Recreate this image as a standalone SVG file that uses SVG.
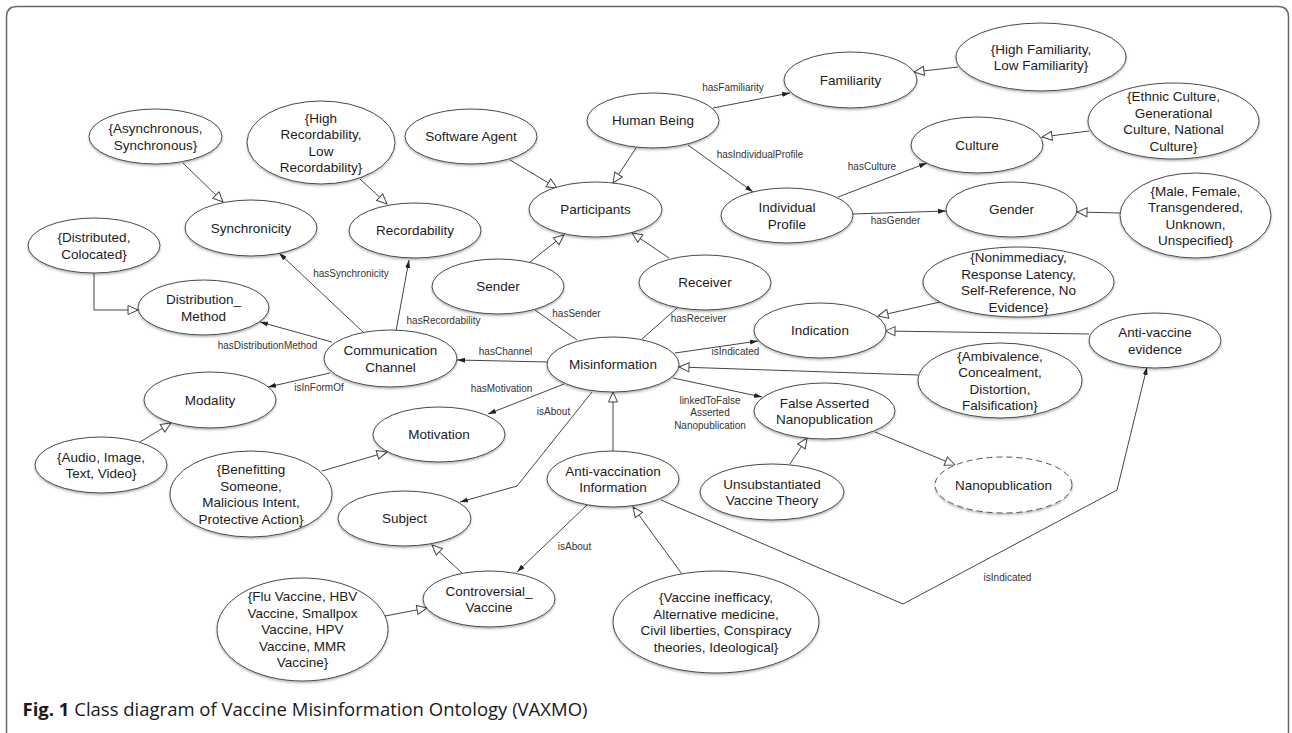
<svg xmlns="http://www.w3.org/2000/svg" width="1292" height="733" viewBox="0 0 1292 733">
<defs>
<style>
.n ellipse{fill:#fff;stroke:#4a4a4a;stroke-width:1;filter:url(#sh)}
.n text{font-family:"Liberation Sans",Arial,sans-serif;font-size:13.5px;fill:#1c1c1c;text-anchor:middle}
.dash ellipse{stroke-dasharray:6 4;stroke:#555}
.e path{fill:none;stroke:#444;stroke-width:1}
.gen{marker-end:url(#hollow)}
.as{marker-end:url(#filled)}
.lbl text{font-family:"Liberation Sans",Arial,sans-serif;font-size:10px;fill:#333;text-anchor:middle}
.cap{font-family:"Open Sans","Noto Sans",sans-serif;font-size:18.5px;fill:#1a1a1a}
</style>
<filter id="sh" x="-10%" y="-10%" width="120%" height="135%">
<feDropShadow dx="0" dy="1.5" stdDeviation="1" flood-color="#000" flood-opacity="0.3"/>
</filter>
<marker id="hollow" markerUnits="userSpaceOnUse" markerWidth="12" markerHeight="12" viewBox="0 0 12 12" refX="11" refY="6" orient="auto">
<path d="M1,1.5 L11,6 L1,10.5 z" fill="#fff" stroke="#444" stroke-width="1"/>
</marker>
<marker id="filled" markerUnits="userSpaceOnUse" markerWidth="8" markerHeight="6" viewBox="0 0 8 6" refX="8" refY="3" orient="auto">
<path d="M0,0.5 L8,3 L0,5.5 z" fill="#222"/>
</marker>
</defs>
<rect width="1292" height="733" fill="#fff"/>
<path d="M6.5,745 L6.5,17 Q6.5,6.5 17,6.5 L1278,6.5 Q1288.5,6.5 1288.5,17 L1288.5,745" fill="none" stroke="#666" stroke-width="1.5"/>

<g id="connectors" class="e">
<path class="gen" d="M183,163 L223,202"/>
<path class="gen" d="M360,179 L387,204"/>
<path class="gen" d="M94,273 L94,310 L138,310"/>
<path class="gen" d="M510,160 L557,188"/>
<path class="gen" d="M636,148 L613,183"/>
<path class="gen" d="M530,262 L564,235"/>
<path class="gen" d="M669,258 L632,233"/>
<path class="gen" d="M958,67 L914,72"/>
<path class="gen" d="M1089,131 L1042,137"/>
<path class="gen" d="M1120,213 L1077,212"/>
<path class="gen" d="M940,302 L878,316"/>
<path class="gen" d="M1089,334 L885,331"/>
<path class="gen" d="M918,375 L679,367"/>
<path class="gen" d="M613,451 L613,392"/>
<path class="gen" d="M790,464 L807,438"/>
<path class="gen" d="M875,432 L955,465"/>
<path class="gen" d="M682,574 L633,507"/>
<path class="gen" d="M462,573 L432,545"/>
<path class="gen" d="M385,616 L427,608"/>
<path class="gen" d="M140,442 L171,423"/>
<path class="gen" d="M322,471 L387,452"/>
<path class="as" d="M713,108 L790,93"/>
<path class="as" d="M688,145 L753,192"/>
<path class="as" d="M838,197 L927,163"/>
<path class="as" d="M853,214 L946,211"/>
<path class="as" d="M363,332 L279,253"/>
<path class="as" d="M396,331 L409,260"/>
<path class="as" d="M332,342 L260,322"/>
<path class="as" d="M548,362 L457,360"/>
<path class="as" d="M330,373 L268,387"/>
<path class="as" d="M564,384 L488,414"/>
<path class="as" d="M592,392 L517,486 L460,502"/>
<path d="M535,310 L577,340"/>
<path d="M677,308 L642,339"/>
<path class="as" d="M675,353 L758,341"/>
<path class="as" d="M673,378 L762,397"/>
<path class="as" d="M587,505 L517,572"/>
<path class="as" d="M661,500 L903,604 L1117,490 L1147,367"/>
</g>

<g id="edge-labels" class="lbl">
<text x="733" y="91">hasFamiliarity</text>
<text x="760" y="158">hasIndividualProfile</text>
<text x="872" y="170">hasCulture</text>
<text x="895.5" y="224">hasGender</text>
<text x="351" y="277">hasSynchronicity</text>
<text x="443.5" y="324">hasRecordability</text>
<text x="576.5" y="317">hasSender</text>
<text x="698.5" y="322">hasReceiver</text>
<text x="267.5" y="349">hasDistributionMethod</text>
<text x="505.5" y="355">hasChannel</text>
<text x="319" y="391">isInFormOf</text>
<text x="501.5" y="392">hasMotivation</text>
<text x="553.5" y="415">isAbout</text>
<text x="735.5" y="355">isIndicated</text>
<text x="710" y="403.5">linkedToFalse</text>
<text x="710" y="416">Asserted</text>
<text x="710" y="428.5">Nanopublication</text>
<text x="574.5" y="550">isAbout</text>
<text x="1007.5" y="581">isIndicated</text>
</g>

<g id="async" class="n"><ellipse cx="155.5" cy="136.5" rx="66.5" ry="27.5"/><text x="155.5" y="133">{Asynchronous,</text><text x="155.5" y="149.5">Synchronous}</text></g>
<g id="highrec" class="n"><ellipse cx="321" cy="142.5" rx="74" ry="41.5"/><text x="321" y="122.5">{High</text><text x="321" y="139">Recordability,</text><text x="321" y="155.5">Low</text><text x="321" y="172">Recordability}</text></g>
<g id="synchronicity" class="n"><ellipse cx="251" cy="228" rx="66" ry="28"/><text x="251" y="232.7">Synchronicity</text></g>
<g id="recordability" class="n"><ellipse cx="415" cy="230.5" rx="66" ry="27.5"/><text x="415" y="235.2">Recordability</text></g>
<g id="distributed" class="n"><ellipse cx="94" cy="245.5" rx="66" ry="27.5"/><text x="94" y="242">{Distributed,</text><text x="94" y="258.5">Colocated}</text></g>
<g id="distmethod" class="n"><ellipse cx="203.5" cy="307.5" rx="65.5" ry="27.5"/><text x="203.5" y="304">Distribution_</text><text x="203.5" y="320.5">Method</text></g>
<g id="commchannel" class="n"><ellipse cx="390.5" cy="358.5" rx="66.5" ry="28.5"/><text x="390.5" y="355">Communication</text><text x="390.5" y="371.5">Channel</text></g>
<g id="software" class="n"><ellipse cx="471" cy="136.5" rx="66" ry="27.5"/><text x="471" y="141.2">Software Agent</text></g>
<g id="human" class="n"><ellipse cx="653" cy="120.5" rx="66" ry="27.5"/><text x="653" y="125.2">Human Being</text></g>
<g id="participants" class="n"><ellipse cx="595.5" cy="209.5" rx="66.5" ry="27.5"/><text x="595.5" y="214.2">Participants</text></g>
<g id="indprofile" class="n"><ellipse cx="787" cy="215.5" rx="66" ry="27.5"/><text x="787" y="212">Individual</text><text x="787" y="228.5">Profile</text></g>
<g id="familiarity" class="n"><ellipse cx="850.5" cy="80" rx="66.5" ry="28"/><text x="850.5" y="84.7">Familiarity</text></g>
<g id="sender" class="n"><ellipse cx="498" cy="286.5" rx="66" ry="27.5"/><text x="498" y="291.2">Sender</text></g>
<g id="receiver" class="n"><ellipse cx="705" cy="282.5" rx="66" ry="27.5"/><text x="705" y="287.2">Receiver</text></g>
<g id="indication" class="n"><ellipse cx="820" cy="330.5" rx="66" ry="27.5"/><text x="820" y="335.2">Indication</text></g>
<g id="misinformation" class="n"><ellipse cx="613" cy="364.5" rx="66" ry="27.5"/><text x="613" y="369.2">Misinformation</text></g>
<g id="highfam" class="n"><ellipse cx="1041" cy="57" rx="85" ry="34"/><text x="1041" y="53.5">{High Familiarity,</text><text x="1041" y="70">Low Familiarity}</text></g>
<g id="ethnic" class="n"><ellipse cx="1173.5" cy="121" rx="85.5" ry="38"/><text x="1173.5" y="101">{Ethnic Culture,</text><text x="1173.5" y="117.5">Generational</text><text x="1173.5" y="134">Culture, National</text><text x="1173.5" y="150.5">Culture}</text></g>
<g id="culture" class="n"><ellipse cx="977" cy="145" rx="66" ry="28"/><text x="977" y="149.7">Culture</text></g>
<g id="gender" class="n"><ellipse cx="1011.5" cy="209.5" rx="65.5" ry="27.5"/><text x="1011.5" y="214.2">Gender</text></g>
<g id="genders" class="n"><ellipse cx="1195.5" cy="215.5" rx="75.5" ry="42.5"/><text x="1195.5" y="195.5">{Male, Female,</text><text x="1195.5" y="212">Transgendered,</text><text x="1195.5" y="228.5">Unknown,</text><text x="1195.5" y="245">Unspecified}</text></g>
<g id="nonimm" class="n"><ellipse cx="1018.5" cy="282" rx="95.5" ry="35"/><text x="1018.5" y="262">{Nonimmediacy,</text><text x="1018.5" y="278.5">Response Latency,</text><text x="1018.5" y="295">Self-Reference, No</text><text x="1018.5" y="311.5">Evidence}</text></g>
<g id="antivacevidence" class="n"><ellipse cx="1155" cy="340.5" rx="66" ry="27.5"/><text x="1155" y="337">Anti-vaccine</text><text x="1155" y="353.5">evidence</text></g>
<g id="ambivalence" class="n"><ellipse cx="1000" cy="380.5" rx="82" ry="37.5"/><text x="1000" y="360.5">{Ambivalence,</text><text x="1000" y="377">Concealment,</text><text x="1000" y="393.5">Distortion,</text><text x="1000" y="410">Falsification}</text></g>
<g id="falseasserted" class="n"><ellipse cx="824.5" cy="411" rx="70.5" ry="28"/><text x="824.5" y="407.5">False Asserted</text><text x="824.5" y="424">Nanopublication</text></g>
<g id="nanopub" class="n dash"><ellipse cx="1003.5" cy="485" rx="68.5" ry="28"/><text x="1003.5" y="489.7">Nanopublication</text></g>
<g id="unsubst" class="n"><ellipse cx="772" cy="492" rx="72" ry="28"/><text x="772" y="488.5">Unsubstantiated</text><text x="772" y="505">Vaccine Theory</text></g>
<g id="antivacinfo" class="n"><ellipse cx="613" cy="479" rx="66" ry="28"/><text x="613" y="475.5">Anti-vaccination</text><text x="613" y="492">Information</text></g>
<g id="vaccineineff" class="n"><ellipse cx="716" cy="622" rx="103" ry="51"/><text x="716" y="602">{Vaccine inefficacy,</text><text x="716" y="618.5">Alternative medicine,</text><text x="716" y="635">Civil liberties, Conspiracy</text><text x="716" y="651.5">theories, Ideological}</text></g>
<g id="controversial" class="n"><ellipse cx="489" cy="599" rx="66" ry="28"/><text x="489" y="595.5">Controversial_</text><text x="489" y="612">Vaccine</text></g>
<g id="motivation" class="n"><ellipse cx="439" cy="434.5" rx="66" ry="27.5"/><text x="439" y="439.2">Motivation</text></g>
<g id="modality" class="n"><ellipse cx="210" cy="400" rx="66" ry="28"/><text x="210" y="404.7">Modality</text></g>
<g id="audio" class="n"><ellipse cx="101" cy="465" rx="66" ry="28"/><text x="101" y="461.5">{Audio, Image,</text><text x="101" y="478">Text, Video}</text></g>
<g id="benefitting" class="n"><ellipse cx="251" cy="494" rx="81" ry="43"/><text x="251" y="474">{Benefitting</text><text x="251" y="490.5">Someone,</text><text x="251" y="507">Malicious Intent,</text><text x="251" y="523.5">Protective Action}</text></g>
<g id="subject" class="n"><ellipse cx="404.5" cy="518.5" rx="66.5" ry="27.5"/><text x="404.5" y="523.2">Subject</text></g>
<g id="flu" class="n"><ellipse cx="302.5" cy="629.5" rx="85.5" ry="51.5"/><text x="302.5" y="601.2">{Flu Vaccine, HBV</text><text x="302.5" y="617.7">Vaccine, Smallpox</text><text x="302.5" y="634.2">Vaccine, HPV</text><text x="302.5" y="650.7">Vaccine, MMR</text><text x="302.5" y="667.2">Vaccine}</text></g>

<text class="cap" x="22.5" y="716"><tspan font-weight="bold">Fig. 1</tspan> Class diagram of Vaccine Misinformation Ontology (VAXMO)</text>
</svg>
